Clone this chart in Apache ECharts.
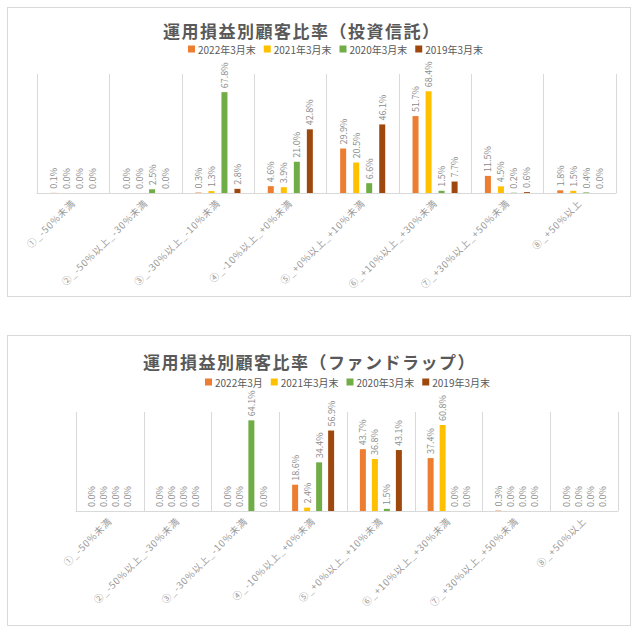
<!DOCTYPE html>
<html>
<head>
<meta charset="utf-8">
<script src="https://cdn.jsdelivr.net/npm/echarts@6/dist/echarts.min.js"></script>
<style>
  html, body { margin: 0; padding: 0; background: #fff; }
  .box { position: absolute; border: 1px solid #d9d9d9; box-sizing: border-box; background: #fff; }
  #chart-fund { left: 7px; top: 7px; width: 624px; height: 290px; }
  #chart-wrap { left: 7px; top: 335px; width: 624px; height: 291px; }
</style>
</head>
<body>
<div id="chart-fund" class="box"></div>
<div id="chart-wrap" class="box"></div>
<script>
const categories = [
  "①_-50%未満",
  "②_-50%以上_-30%未満",
  "③_-30%以上_-10%未満",
  "④_-10%以上_+0%未満",
  "⑤_+0%以上_+10%未満",
  "⑥_+10%以上_+30%未満",
  "⑦_+30%以上_+50%未満",
  "⑧_+50%以上",
];

// 投資信託
const fundTitle = "運用損益別顧客比率（投資信託）";
const fundNames = ["2022年3月末", "2021年3月末", "2020年3月末", "2019年3月末"];
const fund2022 = [0.1, 0.0, 0.3, 4.6, 29.9, 51.7, 11.5, 1.8];
const fund2021 = [0.0, 0.0, 1.3, 3.9, 20.5, 68.4, 4.5, 1.5];
const fund2020 = [0.0, 2.5, 67.8, 21.0, 6.6, 1.5, 0.2, 0.4];
const fund2019 = [0.0, 0.0, 2.8, 42.8, 46.1, 7.7, 0.6, 0.0];

// ファンドラップ
const wrapTitle = "運用損益別顧客比率（ファンドラップ）";
const wrapNames = ["2022年3月", "2021年3月末", "2020年3月末", "2019年3月末"];
const wrap2022 = [0.0, 0.0, 0.0, 18.6, 43.7, 37.4, 0.3, 0.0];
const wrap2021 = [0.0, 0.0, 0.0, 2.4, 36.8, 60.8, 0.0, 0.0];
const wrap2020 = [0.0, 0.0, 64.1, 34.4, 1.5, 0.0, 0.0, 0.0];
const wrap2019 = [0.0, 0.0, 0.0, 56.9, 43.1, 0.0, 0.0, 0.0];

const COLORS = ["#ED7D31", "#FFC000", "#70AD47", "#9E480E"];
const FONT = "'Noto Sans CJK JP', 'Noto Sans', sans-serif";

function buildOption(cfg) {
  const series = cfg.values.map((vals, i) => ({
    name: cfg.names[i],
    type: "bar",
    data: vals,
    barWidth: 6,
    barGap: cfg.barGap,
    itemStyle: { color: COLORS[i] },
    label: {
      show: true,
      position: "top",
      rotate: 90,
      align: "left",
      verticalAlign: "middle",
      distance: 4,
      fontSize: 9,
      fontFamily: FONT,
      color: "#8c8c8c",
      formatter: (p) => `${p.value.toFixed(1)}%`,
    },
  }));
  return {
    animation: false,
    textStyle: { fontFamily: FONT },
    title: {
      text: cfg.title,
      left: cfg.titleLeft,
      top: cfg.titleTop,
      textStyle: { fontSize: 17, fontWeight: "bold", color: "#595959", fontFamily: FONT },
    },
    legend: {
      data: cfg.names,
      left: cfg.legendLeft,
      top: cfg.legendTop,
      icon: "rect",
      itemWidth: 7,
      itemHeight: 7,
      itemGap: 8,
      textStyle: { fontSize: 10, color: "#595959", fontFamily: FONT, padding: [0, 0, 0, -2] },
    },
    grid: cfg.grid,
    xAxis: {
      type: "category",
      data: categories,
      axisLine: { lineStyle: { color: "#d9d9d9" } },
      axisTick: { show: false },
      splitLine: { show: true, lineStyle: { color: "#d9d9d9" } },
      axisLabel: { interval: 0, rotate: 45, fontSize: 9.5, color: "#999999", margin: 8, fontFamily: FONT },
    },
    yAxis: {
      type: "value",
      min: 0,
      max: cfg.max,
      show: false,
      splitLine: { show: false },
    },
    series,
  };
}

// Excel の表示に合わせて、軸ラベルとタイトルだけ字間を広げる
function spreadText(el, title) {
  el.querySelectorAll("text").forEach((t) => {
    const s = t.textContent;
    if (categories.includes(s)) t.style.letterSpacing = "0.9px";
    else if (s === title) t.style.letterSpacing = "1.5px";
  });
}

function makeChart(id, cfg) {
  const el = document.getElementById(id);
  const chart = echarts.init(el, null, { renderer: "svg" });
  chart.on("finished", () => spreadText(el, cfg.title));
  chart.setOption(buildOption(cfg));
  spreadText(el, cfg.title);
  return chart;
}

function initCharts() {
  makeChart("chart-fund", {
    title: fundTitle,
    titleLeft: 150,
    titleTop: 9,
    legendLeft: 175,
    legendTop: 31,
    names: fundNames,
    values: [fund2022, fund2021, fund2020, fund2019],
    grid: { left: 29, right: 14, top: 66, bottom: 103 },
    max: 80,
    barGap: "117%",
  });

  makeChart("chart-wrap", {
    title: wrapTitle,
    titleLeft: 130,
    titleTop: 12,
    legendLeft: 192,
    legendTop: 36,
    names: wrapNames,
    values: [wrap2022, wrap2021, wrap2020, wrap2019],
    grid: { left: 68, right: 12, top: 76, bottom: 114 },
    max: 70,
    barGap: "100%",
  });
}

initCharts();
</script>
</body>
</html>
